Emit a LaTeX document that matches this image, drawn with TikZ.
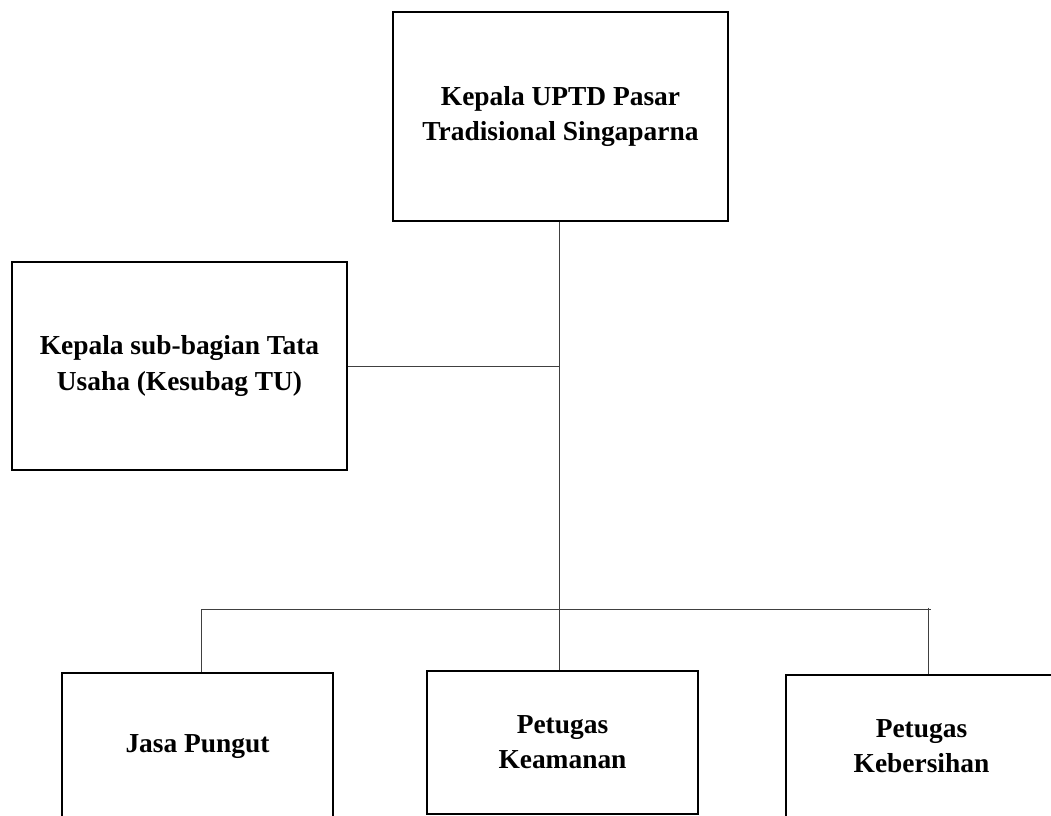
\documentclass[tikz,border=0pt]{standalone}
\usepackage{fontspec}
\setmainfont{Liberation Serif}
\usepackage{tikz}

\begin{document}
\begin{tikzpicture}[x=0.025cm, y=-0.025cm,
		box_style/.style={rectangle,draw=black,line width=1.4pt,fill=white,align=center,inner sep=0pt,
			font=\bfseries\fontsize{19.5}{25}\selectfont},
		wide_box/.style={box_style,minimum width=8.375cm,minimum height=5.2cm},
		unit_box/.style={box_style,minimum width=6.775cm,minimum height=3.575cm},
		line_style/.style={draw=black!75,line width=0.7pt}]
		\useasboundingbox (0,0) rectangle (1051,815);
		\node[wide_box] (kepala) at (560.5,116.5) {Kepala UPTD Pasar\\Tradisional Singaparna};
		\node[wide_box] (tu) at (179.5,366) {Kepala sub-bagian Tata\\Usaha (Kesubag TU)};
		\node[unit_box,minimum height=3.7cm] (jasa) at (197.5,747) {Jasa Pungut};
		\node[unit_box] (aman) at (562.5,742.5) {Petugas\\Keamanan};
		\node[unit_box] (bersih) at (921.5,746.5) {Petugas\\Kebersihan};
		\coordinate (hub) at (559,609);
		\coordinate (d1) at (201,609);
		\coordinate (d3) at (928,609);
		\coordinate (bus_end) at (931,609);
		\draw[line_style]  (kepala.south -| hub) -- (hub);
		\draw[line_style]  (tu.east) -- (tu.east -| hub);
		\draw[line_style]  (d1) -- (bus_end);
		\draw[line_style]  (d1) -- (d1 |- jasa.north);
		\draw[line_style]  (hub) -- (hub |- aman.north);
		\draw[line_style]  ([yshift=1pt]d3) -- (d3 |- bersih.north);
		\end{tikzpicture}
\end{document}
